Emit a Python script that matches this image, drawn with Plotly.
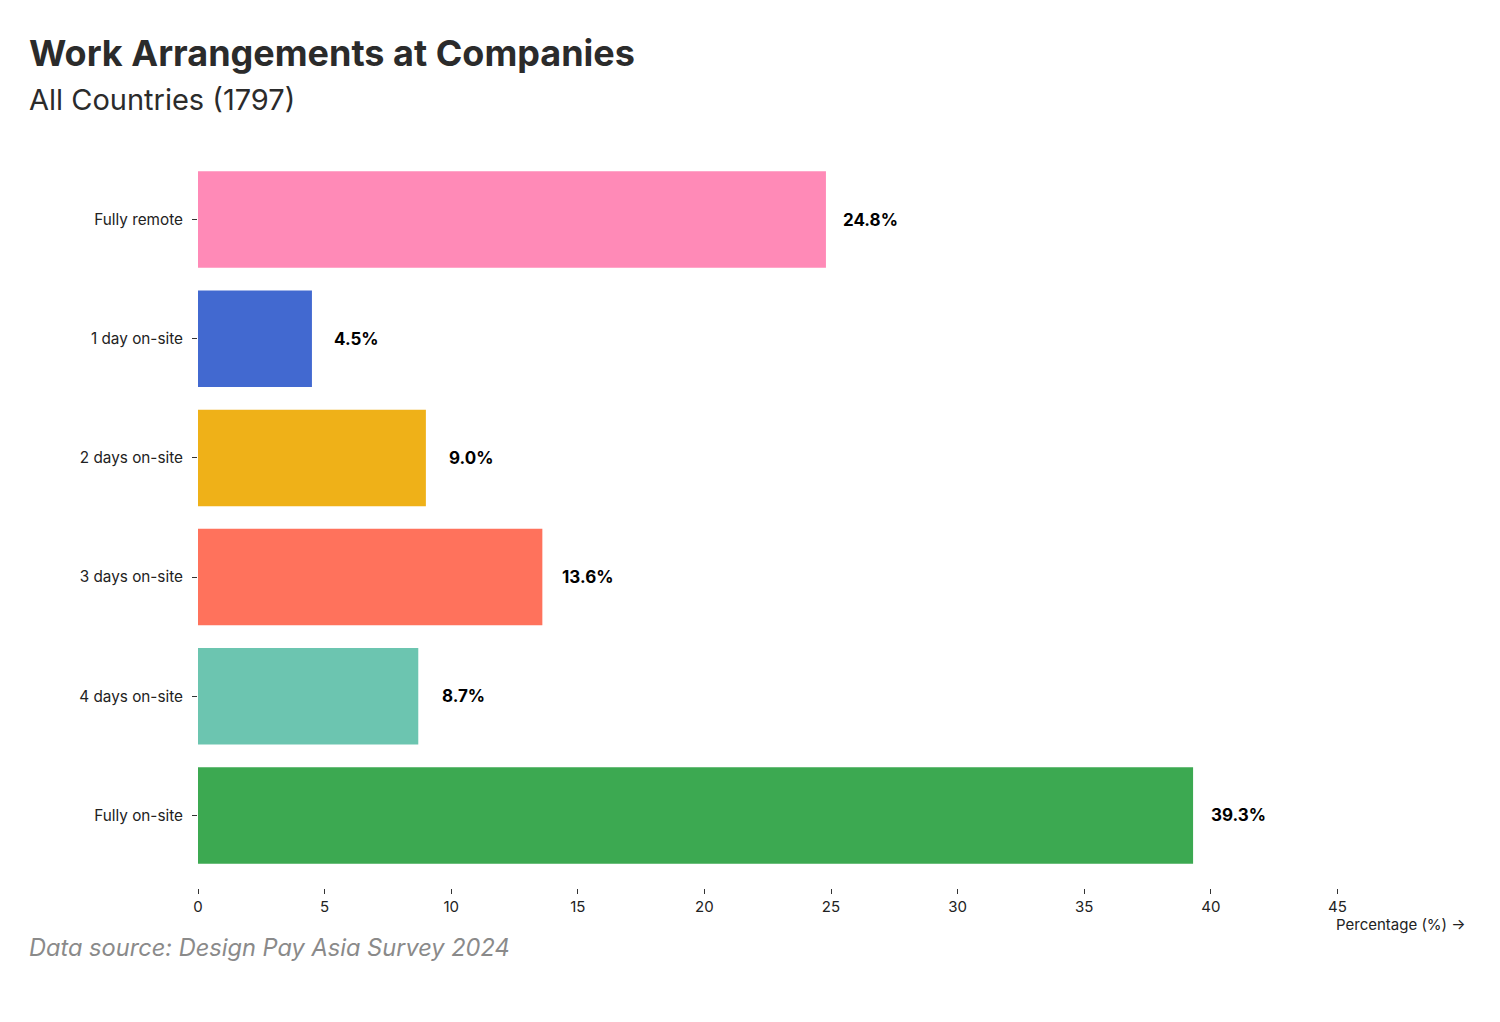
import plotly.graph_objects as go

categories = ["Fully remote", "1 day on-site", "2 days on-site", "3 days on-site", "4 days on-site", "Fully on-site"]
values = [24.8, 4.5, 9.0, 13.6, 8.7, 39.3]
colors = ["#ff8ab7", "#4269d0", "#efb118", "#ff725c", "#6cc5b0", "#3ca951"]
x_ticks = [0, 5, 10, 15, 20, 25, 30, 35, 40, 45]

OFF = 8  # default body margin of the page
W, H = 1500 - 2 * OFF, 1022 - 2 * OFF
ML = 198 - OFF
MR = W - (1464 - OFF)
MT = 152
MB = H - (888 - OFF)
PH = H - MT - MB
FONT = "Inter, Roboto, sans-serif"


def py(p):
    return (H - MB - (p - OFF)) / PH


def px(p):
    return ((p - OFF) - ML) / (W - ML - MR)


fig = go.Figure()
fig.add_trace(go.Bar(
    x=values, y=categories, orientation="h",
    marker=dict(color=colors, line=dict(width=0)),
    hoverinfo="x+y",
))

for v, c in zip(values, categories):
    fig.add_annotation(x=v, y=c, xref="x", yref="y", text=f"{v:.1f}%",
                       showarrow=False, xanchor="center", xshift=45,
                       font=dict(family=FONT, size=17, color="#000000", weight="bold"))

fig.add_annotation(xref="paper", yref="paper", x=px(27), y=py(53), xanchor="left", yanchor="middle",
                   text="<b>Work Arrangements at Companies</b>", showarrow=False,
                   font=dict(family=FONT, size=36, color="#2b2b2b"))
fig.add_annotation(xref="paper", yref="paper", x=px(27), y=py(99), xanchor="left", yanchor="middle",
                   text="All Countries (1797)", showarrow=False,
                   font=dict(family=FONT, size=29, color="#2b2b2b"))
fig.add_annotation(xref="paper", yref="paper", x=px(27), y=py(947), xanchor="left", yanchor="middle",
                   text="<i>Data source: Design Pay Asia Survey 2024</i>", showarrow=False,
                   font=dict(family=FONT, size=23.6, color="#8a8a8a"))
fig.add_annotation(xref="paper", yref="paper", x=px(1468), y=py(924), xanchor="right", yanchor="middle",
                   text="Percentage (%) →", showarrow=False,
                   font=dict(family=FONT, size=15, color="#222222"))

fig.update_layout(
    width=W, height=H,
    margin=dict(l=ML, r=MR, t=MT, b=MB),
    paper_bgcolor="white", plot_bgcolor="white",
    bargap=0.19,
    showlegend=False,
    font=dict(family=FONT, size=15, color="#222222"),
    xaxis=dict(range=[0, 50], tickvals=x_ticks, showgrid=False, zeroline=False, showline=False,
               ticks="outside", ticklen=5, tickcolor="#333333", tickwidth=1,
               anchor="free", position=0,
               tickfont=dict(family=FONT, size=15, color="#222222")),
    yaxis=dict(categoryorder="array", categoryarray=categories, autorange="reversed",
               domain=[13 / PH, 1],
               showgrid=False, zeroline=False, showline=False,
               ticks="outside", ticklen=5, tickcolor="#333333", tickwidth=1,
               ticklabelstandoff=6,
               tickfont=dict(family=FONT, size=15.3, color="#222222")),
)

fig.write_html("out.html")
